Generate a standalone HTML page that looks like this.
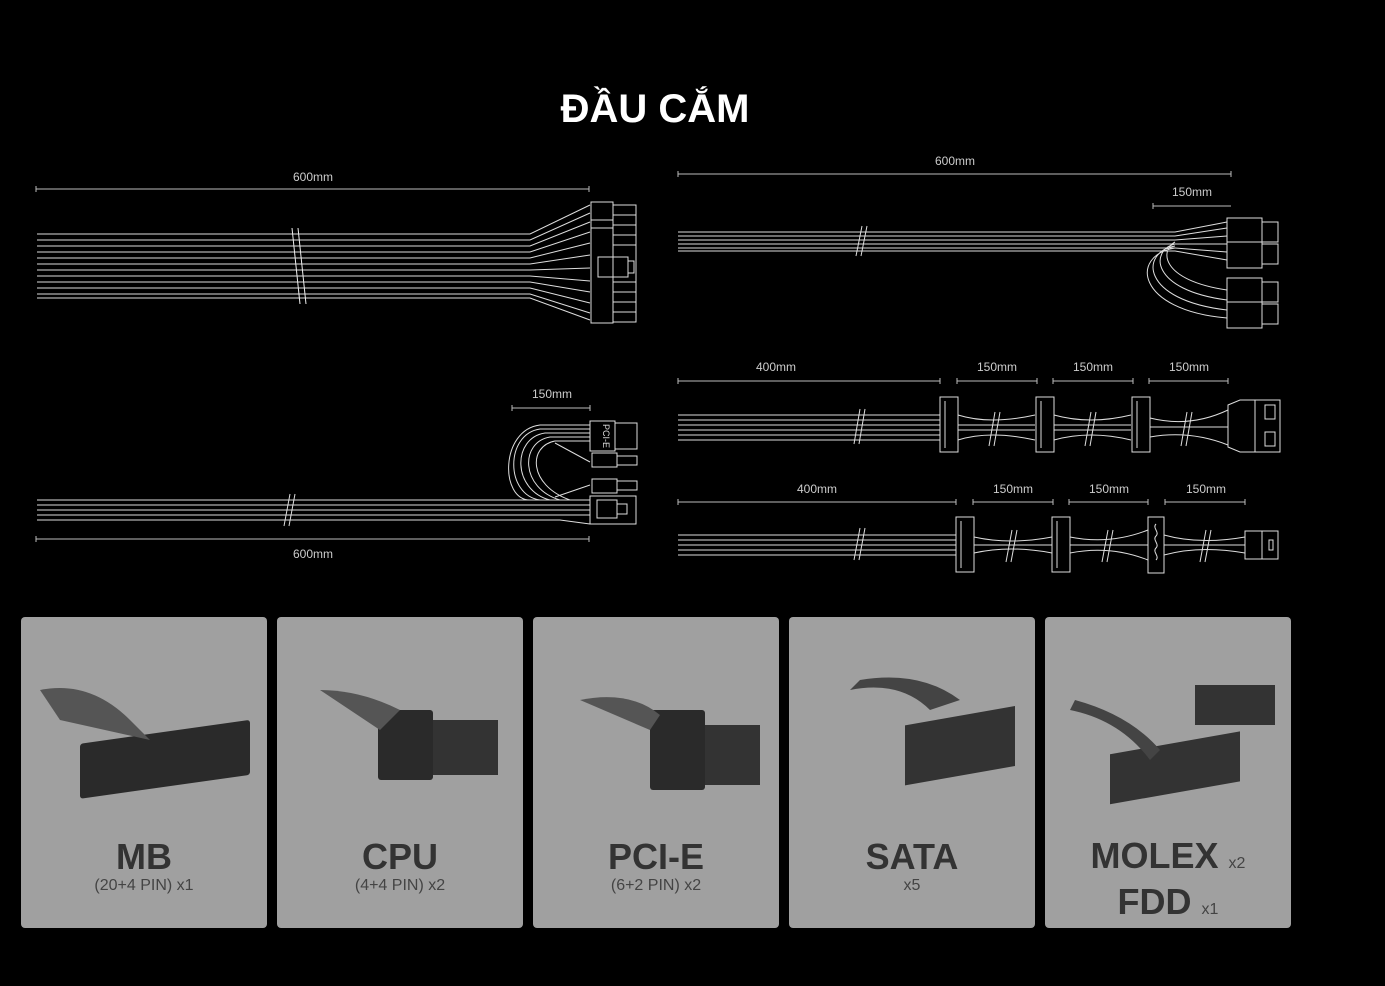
<!DOCTYPE html>
<html><head><meta charset="utf-8"><style>
html,body{margin:0;padding:0;background:#000;width:1385px;height:986px;overflow:hidden;font-family:"Liberation Sans",sans-serif}
.card{position:absolute;top:617px;width:246px;height:311px;background:#a0a0a0;border-radius:4px;text-align:center;color:#333}
.t{position:absolute;left:0;right:0;top:220px;font-size:36px;font-weight:bold;line-height:40px}
.s{position:absolute;left:0;right:0;top:260px;font-size:16px;color:#444}
.sm{font-size:16px;font-weight:normal;color:#444}
</style></head><body>
<svg width="1385" height="986" style="position:absolute;left:0;top:0" fill="none" stroke="#ddd" stroke-width="1">
<text x="655" y="122" text-anchor="middle" fill="#fff" stroke="none" font-size="40" font-weight="bold" font-family="Liberation Sans">ĐẦU CẮM</text>
<g fill="#ccc" stroke="none" font-size="12" font-family="Liberation Sans" text-anchor="middle">
<text x="313" y="181">600mm</text><text x="955" y="165">600mm</text><text x="1192" y="196">150mm</text>
<text x="552" y="398">150mm</text><text x="313" y="558">600mm</text>
<text x="776" y="371">400mm</text><text x="997" y="371">150mm</text><text x="1093" y="371">150mm</text><text x="1189" y="371">150mm</text>
<text x="817" y="493">400mm</text><text x="1013" y="493">150mm</text><text x="1109" y="493">150mm</text><text x="1206" y="493">150mm</text>
</g>
<g stroke="#bbb">
<path d="M36 189H589M36 186v6M589 186v6"/><path d="M678 174H1231M678 171v6M1231 171v6"/><path d="M1153 206H1231M1153 203v6"/>
<path d="M512 408H590M512 405v6M590 405v6"/><path d="M36 539H589M36 536v6M589 536v6"/>
<path d="M678 381H940M678 378v6M940 378v6M957 381H1037M957 378v6M1037 378v6M1053 381H1133M1053 378v6M1133 378v6M1149 381H1228M1149 378v6M1228 378v6"/>
<path d="M678 502H956M678 499v6M956 499v6M973 502H1053M973 499v6M1053 499v6M1069 502H1148M1069 499v6M1148 499v6M1165 502H1245M1165 499v6M1245 499v6"/>
</g>
<g>
<path d="M37 234H530L590 205M37 240H530L590 213M37 246H530L590 222M37 252H530L590 232M37 258H530L590 243M37 264H530L590 255M37 270H530L590 268M37 276H530L590 281M37 282H530L590 292M37 288H530L590 303M37 294H530L590 313M37 298H530L590 320"/>
<path d="M292 228L300 304M298 228L306 304" stroke="#eee"/>
<rect x="591" y="202" width="22" height="121"/><path d="M591 220H613M591 228H613"/>
<rect x="598" y="257" width="30" height="20"/><rect x="628" y="261" width="6" height="12"/>
<path d="M613 205H636V322H613M613 215H636M613 225H636M613 235H636M613 245H636M613 282H636M613 292H636M613 302H636M613 312H636"/>
</g>
<g>
<path d="M678 232H1175L1227 222M678 236H1175L1227 228M678 240H1175L1227 236M678 244H1175L1227 244M678 248H1175L1227 252M678 251H1175L1227 260"/>
<path d="M1175 248C1130 255 1135 310 1227 318M1175 246C1140 252 1140 300 1227 310M1175 244C1150 250 1150 290 1227 300M1175 242C1160 250 1160 280 1227 290"/>
<path d="M862 226L856 256M867 226L861 256"/>
<rect x="1227" y="218" width="35" height="50"/><rect x="1262" y="222" width="16" height="20"/><rect x="1262" y="244" width="16" height="20"/><path d="M1227 242H1262"/>
<rect x="1227" y="278" width="35" height="50"/><rect x="1262" y="282" width="16" height="20"/><rect x="1262" y="304" width="16" height="20"/><path d="M1227 302H1262"/>
</g>
<g>
<path d="M37 500H590M37 505H590M37 510H590M37 515H590M37 520H560L590 524"/>
<path d="M290 494L284 526M295 494L289 526"/>
<path d="M590 425H540C500 430 500 500 530 500M590 429H540C505 434 505 495 540 500M590 433H545C512 438 512 490 550 500M590 437H550C520 442 520 488 560 500M590 441H555C528 446 528 485 570 500M555 443L590 462M555 497L590 485"/>
<rect x="590" y="421" width="25" height="30"/><text x="603" y="436" fill="#ddd" stroke="none" font-size="9" transform="rotate(90 603 436)" text-anchor="middle">PCI-E</text>
<rect x="615" y="423" width="22" height="26"/><rect x="592" y="453" width="25" height="14"/><rect x="617" y="456" width="20" height="9"/>
<rect x="592" y="479" width="25" height="14"/><rect x="617" y="481" width="20" height="9"/>
<rect x="590" y="496" width="46" height="28"/><rect x="597" y="500" width="20" height="18"/><rect x="617" y="504" width="10" height="10"/>
</g>
<g>
<path d="M678 415H940M678 420H940M678 425H940M678 430H940M678 435H940M678 440H940"/>
<path d="M860 409L854 444M865 409L859 444"/>
<path d="M958 415Q990 425 1035 415M958 440Q990 430 1035 440M958 425H1035M958 430H1035M1054 415Q1090 425 1131 415M1054 440Q1090 430 1131 440M1054 425H1131M1054 430H1131M1150 418Q1190 428 1228 410M1150 437Q1190 430 1228 445M1150 427H1228"/>
<path d="M995 412L989 446M1000 412L994 446M1091 412L1085 446M1096 412L1090 446M1187 412L1181 446M1192 412L1186 446"/>
<rect x="940" y="397" width="18" height="55"/><path d="M945 401v47"/>
<rect x="1036" y="397" width="18" height="55"/><path d="M1041 401v47"/>
<rect x="1132" y="397" width="18" height="55"/><path d="M1137 401v47"/>
<path d="M1228 405L1240 400H1280V452H1240L1228 447Z"/><path d="M1255 400V452"/><rect x="1265" y="405" width="10" height="14"/><rect x="1265" y="432" width="10" height="14"/>
</g>
<g>
<path d="M678 535H956M678 540H956M678 545H956M678 550H956M678 555H956"/>
<path d="M860 528L854 560M865 528L859 560"/>
<path d="M974 537Q1010 545 1052 537M974 553Q1010 545 1052 553M974 545H1052M1070 537Q1110 545 1148 530M1070 553Q1110 545 1148 560M1070 545H1148M1164 535Q1200 545 1245 537M1164 555Q1200 545 1245 553M1164 545H1245"/>
<path d="M1012 530L1006 562M1017 530L1011 562M1108 530L1102 562M1113 530L1107 562M1206 530L1200 562M1211 530L1205 562"/>
<rect x="956" y="517" width="18" height="55"/><path d="M961 521v47"/>
<rect x="1052" y="517" width="18" height="55"/><path d="M1057 521v47"/>
<rect x="1148" y="517" width="16" height="56"/><path d="M1156 524c-4 4 4 8 0 12c-4 4 4 8 0 12c-4 4 4 8 0 12"/>
<rect x="1245" y="531" width="33" height="28"/><path d="M1262 531V559"/><rect x="1269" y="540" width="4" height="10"/>
</g>
</svg>
<div class="card" style="left:21px"><div class="t">MB</div><div class="s">(20+4 PIN) x1</div></div>
<div class="card" style="left:277px"><div class="t">CPU</div><div class="s">(4+4 PIN) x2</div></div>
<div class="card" style="left:533px"><div class="t">PCI-E</div><div class="s">(6+2 PIN) x2</div></div>
<div class="card" style="left:789px"><div class="t">SATA</div><div class="s">x5</div></div>
<div class="card" style="left:1045px"><div class="t" style="line-height:38px">MOLEX <span class="sm">x2</span><br>FDD <span class="sm">x1</span></div></div>
<svg width="1385" height="986" style="position:absolute;left:0;top:0" fill="#2a2a2a">
<rect x="80" y="735" width="170" height="55" rx="3" transform="skewY(-8) translate(0,20)"/>
<path d="M40 690Q90 680 130 720L150 740 60 720Z" fill="#555"/>
<rect x="378" y="710" width="55" height="70" rx="3"/><rect x="433" y="720" width="65" height="55" fill="#333"/><path d="M320 690Q360 690 400 710L380 730Z" fill="#555"/>
<rect x="650" y="710" width="55" height="80" rx="3"/><rect x="705" y="725" width="55" height="60" fill="#333"/><path d="M580 700Q630 690 660 715L650 730Z" fill="#555"/>
<path d="M850 690Q900 680 930 710L960 700 Q920 670 860 680Z" fill="#444"/><rect x="905" y="720" width="110" height="60" fill="#333" transform="skewY(-10) translate(0,165)"/>
<rect x="1110" y="750" width="130" height="50" fill="#333" transform="skewY(-10) translate(0,200)"/><rect x="1195" y="685" width="80" height="40" fill="#333"/><path d="M1070 710Q1120 720 1150 760L1160 750Q1130 715 1075 700Z" fill="#444"/>
</svg>
</body></html>
